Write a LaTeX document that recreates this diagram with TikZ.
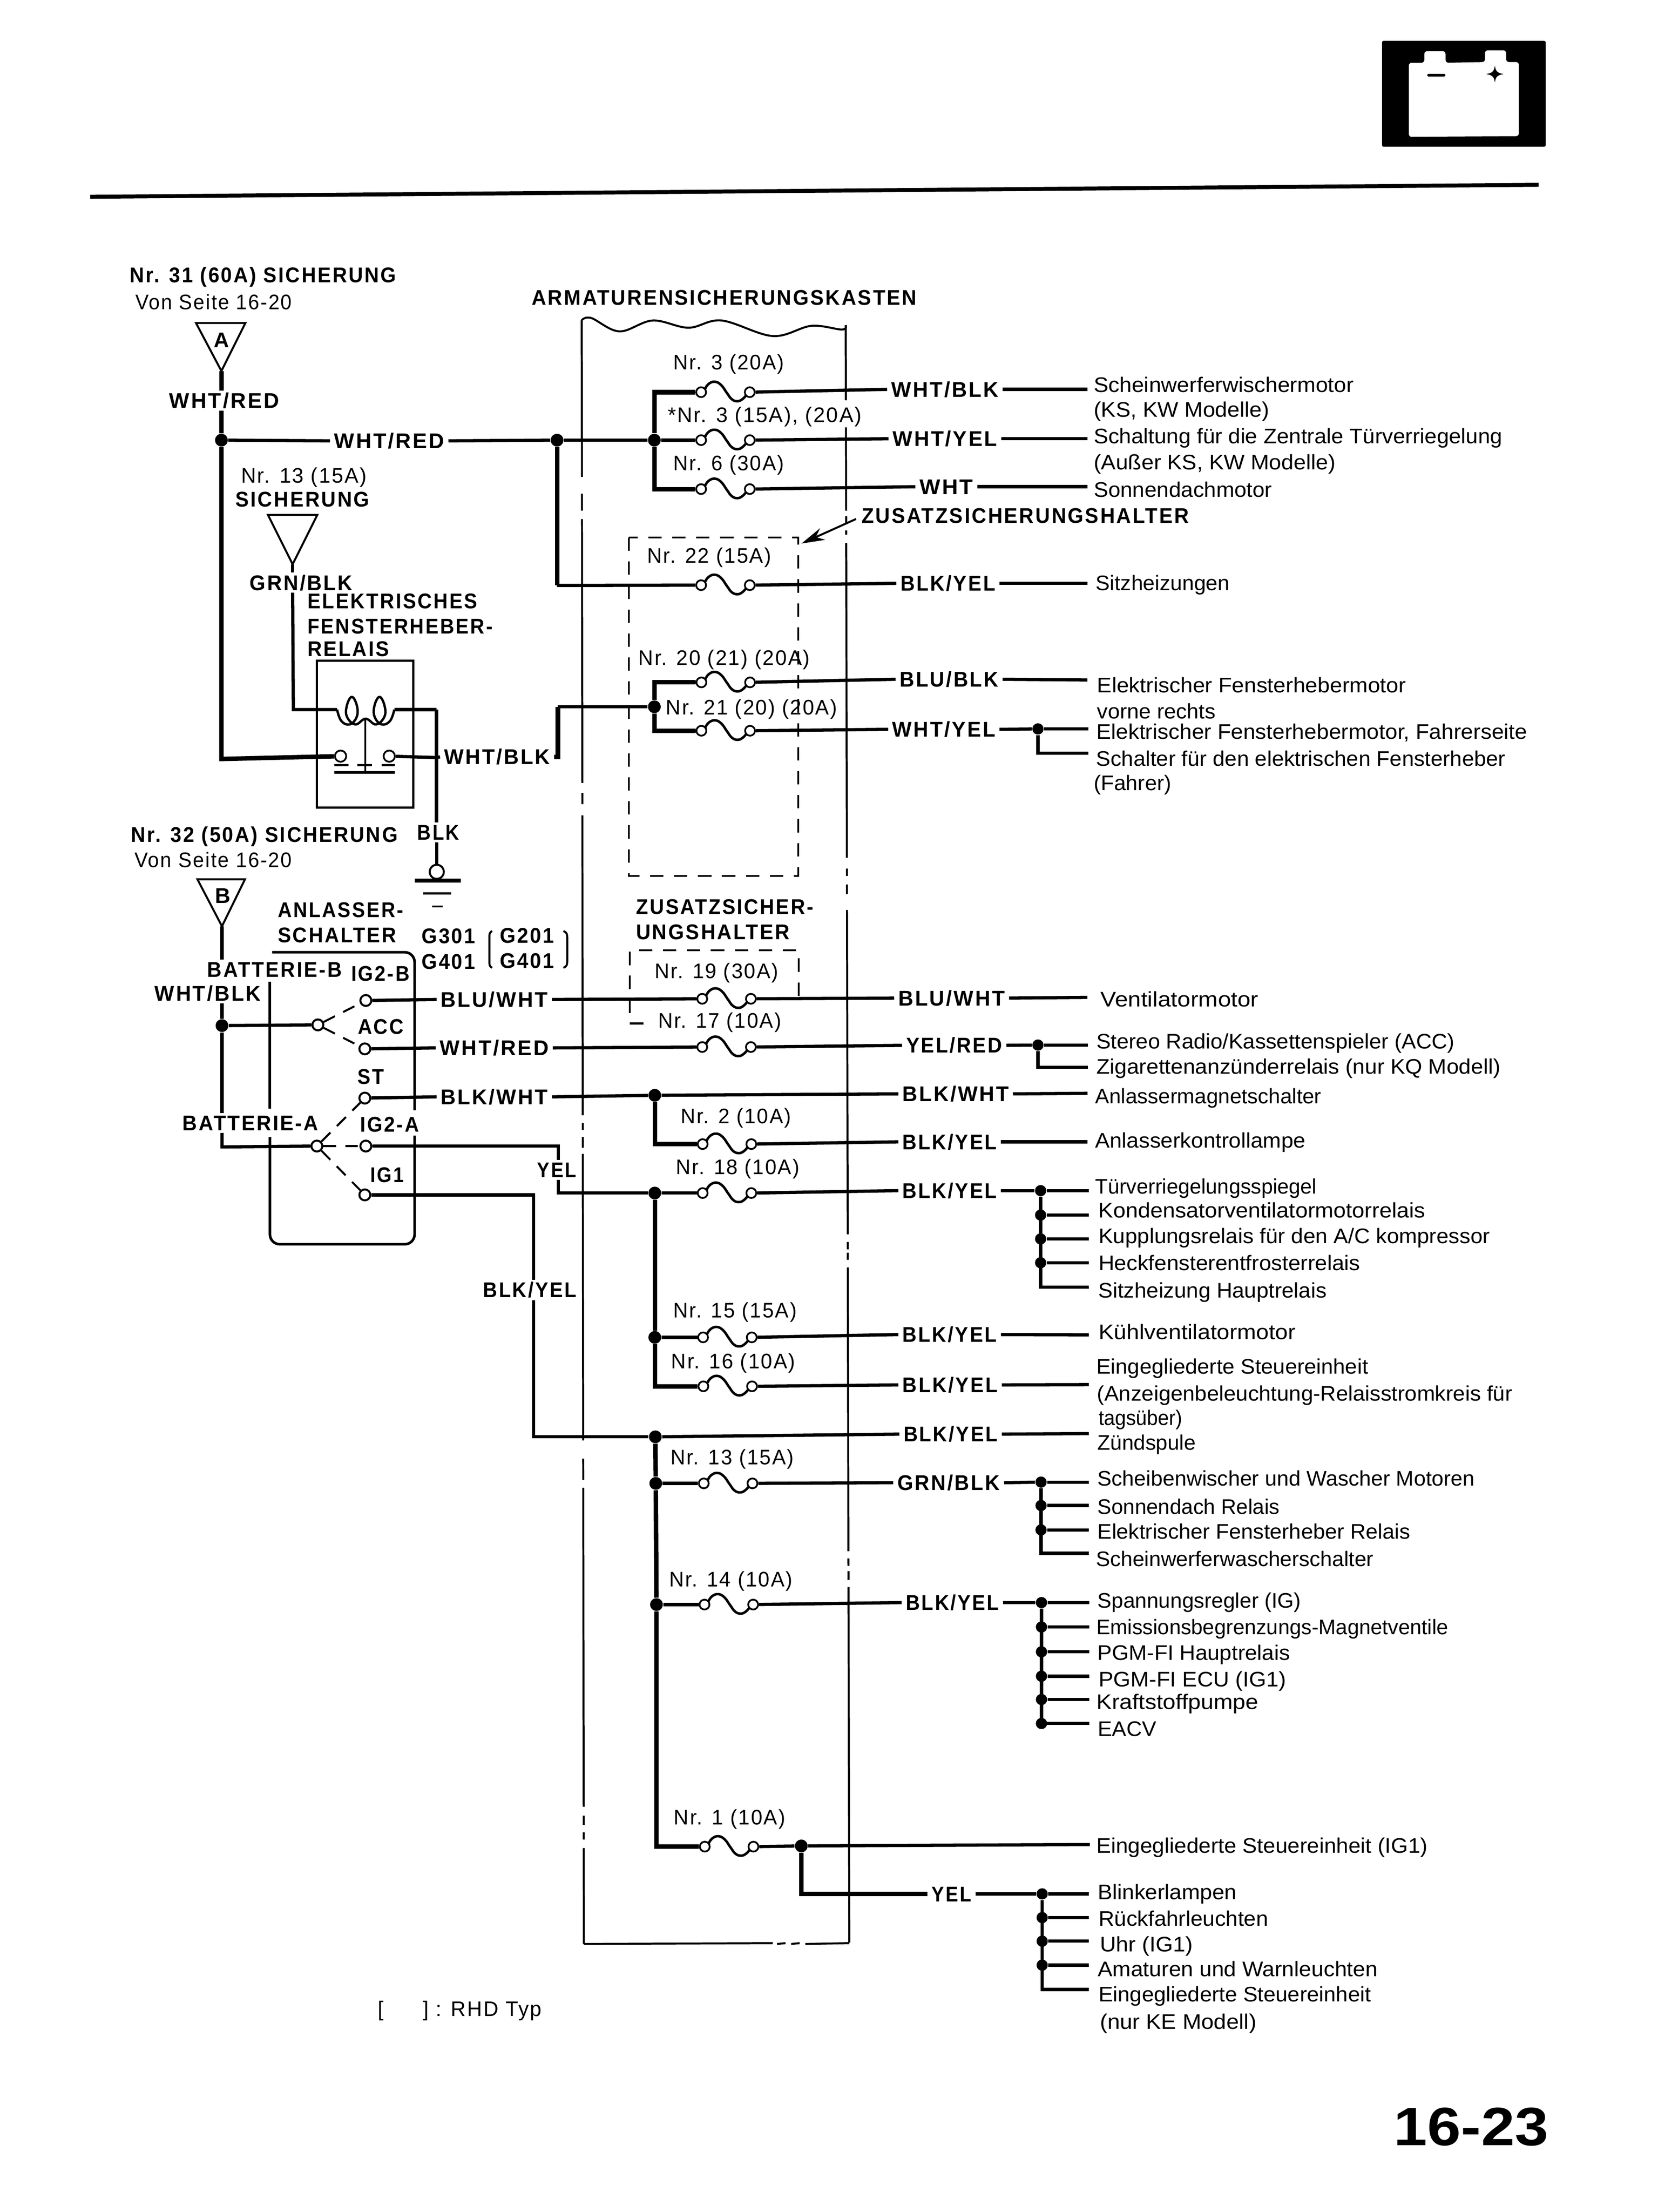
\documentclass[tikz,border=0pt]{standalone}
\usepackage{fontspec}
\usepackage{graphicx}
\usetikzlibrary{arrows.meta,calc}
\setmainfont{Liberation Sans}
\newfontfamily\fbold[LetterSpace=8]{Liberation Sans}
\newfontfamily\fspaced[LetterSpace=6]{Liberation Sans}
\newfontfamily\fplain{Liberation Sans}
\newsavebox\fitb
\newcommand\fitw[2]{\sbox\fitb{#2}\pgfmathsetmacro\fitf{#1/\the\wd\fitb}\scalebox{\fitf}[1]{\usebox\fitb}}
% style, name, x left, x right, y, text
\newcommand\tlab[6]{\pgfmathsetmacro\wpt{(#4-#3)*0.02*28.45276}\node[#1] (#2) at ({(#3+#4)/2},#5) {\fitw{\wpt}{#6}};}
\tikzset{
  lbl/.style={font=\fbold\bfseries\fontsize{8.6}{10}\selectfont,inner sep=0pt,outer xsep=1.7pt,outer ysep=1pt,text height=6.1pt,text depth=0pt},
  nrt/.style={font=\fspaced\fontsize{8.5}{10}\selectfont,inner sep=0pt,outer sep=0pt,text height=6.1pt,text depth=0pt},
  txt/.style={font=\fplain\fontsize{8.5}{10}\selectfont,inner sep=0pt,outer sep=0pt,text height=6.1pt,text depth=0pt},
  wire/.style={line width=1.3pt,line join=miter},
  trunk/.style={line width=1.8pt,line join=miter},
  thinl/.style={line width=0.8pt},
  jdot/.style={circle,fill=black,inner sep=0pt,minimum size=0.18cm},
  fcirc/.style={circle,draw=black,fill=white,line width=0.7pt,inner sep=0pt,minimum size=0.14cm},
  scirc/.style={circle,draw=black,fill=white,line width=0.8pt,inner sep=0pt,minimum size=0.155cm},
  dbox/.style={line width=0.8pt,dash pattern=on 1.9mm off 1.5mm},
  fuse/.pic={
    \node[fcirc] (-l) at (-17.25,0) {};
    \node[fcirc] (-r) at (17.25,0) {};
    \draw[line width=1pt] plot[smooth,tension=0.75] coordinates {(-14.5,-2.2) (-12,-5.8) (-7.5,-7.4) (-3,-5) (1,0.5) (4.5,5) (8.5,6.4) (12,5) (14.8,2)};
  }
}
\begin{document}
\begin{tikzpicture}[x=0.02cm,y=-0.02cm]
\useasboundingbox (0,0) rectangle (1175.5,1568);
\fill[white] (0,0) rectangle (1175.5,1568);
% ---------- header
\fill[black,rounded corners=0.2mm] (980,29) rectangle (1096,104);
\fill[white,rounded corners=0.4mm] (999,97) -- (999,44.5) -- (1010,44.5) -- (1010,36.3) -- (1025,36.3) -- (1025,44.5) -- (1053,44) -- (1053,35.7) -- (1068,35.7) -- (1068,44) -- (1077,44) -- (1077,96.5) -- cycle;
\draw[line width=1.1pt,line cap=round] (1013,53.3) -- (1024,53.3);
\fill[black] (1060,46.5) .. controls (1060.6,50.5) and (1061.5,51.6) .. (1066,52.5) .. controls (1061.5,53.4) and (1060.6,54.5) .. (1060,58.5) .. controls (1059.4,54.5) and (1058.5,53.4) .. (1054,52.5) .. controls (1058.5,51.6) and (1059.4,50.5) .. (1060,46.5) -- cycle;
\draw[line width=1.6pt] (64,139.5) -- (1091,131);
\node[inner sep=0pt,font=\bfseries\fontsize{21.8}{24}\selectfont,text height=15.6pt,text depth=0pt] (pg) at (1043.2,1507) {\pgfmathsetmacro\wpt{109.5*0.02*28.45276}\fitw{\wpt}{16-23}};
% ---------- fuse box outline
\draw[thinl] plot[smooth,tension=0.6] coordinates {(412.5,227) (419.2,225.4) (439.2,234.9) (462.8,227.2) (488.2,232.3) (511.7,227.2) (548,238.2) (575.2,231) (597,233.6) (599.7,230.5)};
\foreach \a/\b in {227/338,350/362,368/555,562/570,578/790.5,796/801,806/813.6,818/1021,1034/1049,1054.6/1280.8,1287/1293.6,1298.8/1304,1310/1378}
  \draw[thinl] ({412.5+(\a-227)*0.0013},\a) -- ({412.5+(\b-227)*0.0013},\b);
\foreach \a/\b in {230.5/283.7,303/362,366/371,376/379,385/608,615.7/620.9,627/633.7,645/875,880.4/885.6,888/893,898.4/1099.6,1104.7/1110,1113.7/1120,1125/1377}
  \draw[thinl] ({599.7+(\a-230)*0.0022},\a) -- ({599.7+(\b-230)*0.0022},\b);
\foreach \a/\b in {414/548,551/557,561/567,571/602.2}
  \draw[thinl] (\a,1378) -- (\b,1377.4);
% dashed holders
\draw[dbox] (446,381) rectangle (566,621);
\draw[dbox] (456.2,725.5) -- (446.6,725.5) -- (446.6,673.6) -- (566.3,673.6) -- (566.3,707.5);
% ---------- titles
\tlab{lbl}{tT31}{92}{281}{195}{Nr. 31 (60A) SICHERUNG}
\tlab{nrt}{tV1}{96}{207}{214}{Von Seite 16-20}
\tlab{lbl}{tBox}{377}{650}{211}{ARMATURENSICHERUNGSKASTEN}
\tlab{nrt}{tN13a}{171}{260}{337}{Nr. 13 (15A)}
\tlab{lbl}{tSich}{167}{262}{354}{SICHERUNG}
\tlab{lbl}{tEl1}{218}{338.5}{426}{ELEKTRISCHES}
\tlab{lbl}{tEl2}{218}{349.4}{444}{FENSTERHEBER-}
\tlab{lbl}{tEl3}{218}{276}{460}{RELAIS}
\tlab{lbl}{tT32}{93}{282}{591.6}{Nr. 32 (50A) SICHERUNG}
\tlab{nrt}{tV2}{95.5}{207}{609.5}{Von Seite 16-20}
\tlab{lbl}{tAn1}{197}{286}{645}{ANLASSER-}
\tlab{lbl}{tAn2}{197}{281}{662.8}{SCHALTER}
\tlab{lbl}{tG1}{299}{337}{663.4}{G301}
\tlab{lbl}{tG2}{299}{337}{681.6}{G401}
\tlab{lbl}{tG3}{354.4}{393}{663}{G201}
\tlab{lbl}{tG4}{354.4}{393}{681}{G401}
\tlab{lbl}{tBB}{147}{242.4}{687.3}{BATTERIE-B}
\tlab{lbl}{tI2B}{249}{290.4}{690}{IG2-B}
\tlab{lbl}{tACC}{253.7}{286.3}{727.6}{ACC}
\tlab{lbl}{tST}{253.5}{272.3}{763}{ST}
\tlab{lbl}{tBA}{129.5}{225.8}{796}{BATTERIE-A}
\tlab{lbl}{tI2A}{255.3}{297.2}{797}{IG2-A}
\tlab{lbl}{tIG1}{262.5}{286.3}{832.8}{IG1}
\tlab{lbl}{tZ1}{451}{576.7}{642.7}{ZUSATZSICHER-}
\tlab{lbl}{tZ2}{451}{560}{660.7}{UNGSHALTER}
\tlab{lbl}{tZ}{611}{843}{365.4}{ZUSATZSICHERUNGSHALTER}
\tlab{nrt}{tRHD}{268}{384}{1424}{[\hspace{1.9em}] : RHD Typ}
% fuse captions
\tlab{nrt}{n3}{477.6}{556}{256.8}{Nr. 3 (20A)}
\tlab{nrt}{ns}{473.6}{611}{294}{*Nr. 3 (15A), (20A)}
\tlab{nrt}{n6}{477.6}{556}{328}{Nr. 6 (30A)}
\tlab{nrt}{n22}{458.8}{547}{393.7}{Nr. 22 (15A)}
\tlab{nrt}{n20}{452.8}{574.3}{466}{Nr. 20 (21) (20A)}
\tlab{nrt}{n21}{472.2}{593.7}{501.4}{Nr. 21 (20) (20A)}
\tlab{nrt}{n19}{464.3}{552}{688.2}{Nr. 19 (30A)}
\tlab{nrt}{n17}{466.7}{554}{723.2}{Nr. 17 (10A)}
\tlab{nrt}{n2}{482.8}{561}{791}{Nr. 2 (10A)}
\tlab{nrt}{n18}{479.4}{566.9}{827.2}{Nr. 18 (10A)}
\tlab{nrt}{n15}{477.5}{565}{928.8}{Nr. 15 (15A)}
\tlab{nrt}{n16}{476}{564}{964.7}{Nr. 16 (10A)}
\tlab{nrt}{n13}{475.5}{563}{1032.8}{Nr. 13 (15A)}
\tlab{nrt}{n14}{474.5}{562}{1119.4}{Nr. 14 (10A)}
\tlab{nrt}{n1}{477.9}{557}{1288}{Nr. 1 (10A)}
% ---------- loads
\tlab{txt}{x1}{775.6}{960}{272.5}{Scheinwerferwischermotor}
\tlab{txt}{x2}{775.6}{900}{290.3}{(KS, KW Modelle)}
\tlab{txt}{x3}{775.6}{1065.4}{309}{Schaltung für die Zentrale Türverriegelung}
\tlab{txt}{x4}{775.6}{947}{327.6}{(Außer KS, KW Modelle)}
\tlab{txt}{x5}{775.6}{902}{347}{Sonnendachmotor}
\tlab{txt}{x6}{777}{872}{413}{Sitzheizungen}
\tlab{txt}{x7}{778}{997}{485.6}{Elektrischer Fensterhebermotor}
\tlab{txt}{x8}{778}{862}{504}{vorne rechts}
\tlab{txt}{x9}{777.5}{1083}{518.5}{Elektrischer Fensterhebermotor, Fahrerseite}
\tlab{txt}{x10}{777.3}{1067.6}{537.5}{Schalter für den elektrischen Fensterheber}
\tlab{txt}{x11}{775.6}{830.5}{555}{(Fahrer)}
\tlab{txt}{x12}{780.4}{892.4}{708.3}{Ventilatormotor}
\tlab{txt}{x13}{777.5}{1031.5}{738}{Stereo Radio/Kassettenspieler (ACC)}
\tlab{txt}{x14}{777.5}{1064}{755.9}{Zigarettenanzünderrelais (nur KQ Modell)}
\tlab{txt}{x15}{776.6}{937}{777}{Anlassermagnetschalter}
\tlab{txt}{x16}{776.6}{925.8}{808.4}{Anlasserkontrollampe}
\tlab{txt}{x17}{776.6}{933.7}{841}{Türverriegelungsspiegel}
\tlab{txt}{x18}{778.8}{1010.8}{857.9}{Kondensatorventilatormotorrelais}
\tlab{txt}{x19}{779}{1056.5}{875.9}{Kupplungsrelais für den A/C kompressor}
\tlab{txt}{x20}{779}{964.5}{895.1}{Heckfensterentfrosterrelais}
\tlab{txt}{x21}{778.8}{940.7}{914.6}{Sitzheizung Hauptrelais}
\tlab{txt}{x22}{779}{918.8}{944.2}{Kühlventilatormotor}
\tlab{txt}{x23}{777.5}{970.2}{968.6}{Eingegliederte Steuereinheit}
\tlab{txt}{x24}{778}{1072.4}{987.6}{(Anzeigenbeleuchtung-Relaisstromkreis für}
\tlab{txt}{x25}{779}{838.5}{1005}{tagsüber)}
\tlab{txt}{x26}{778.2}{848}{1022.5}{Zündspule}
\tlab{txt}{x27}{778.2}{1045.7}{1048}{Scheibenwischer und Wascher Motoren}
\tlab{txt}{x28}{778.2}{907.4}{1068}{Sonnendach Relais}
\tlab{txt}{x29}{778.2}{1000}{1085.6}{Elektrischer Fensterheber Relais}
\tlab{txt}{x30}{777.2}{974}{1105}{Scheinwerferwascherschalter}
\tlab{txt}{x31}{778.2}{922.6}{1134.3}{Spannungsregler (IG)}
\tlab{txt}{x32}{777.5}{1027}{1153.3}{Emissionsbegrenzungs-Magnetventile}
\tlab{txt}{x33}{778.2}{914.7}{1171.3}{PGM-FI Hauptrelais}
\tlab{txt}{x34}{779}{912}{1190.3}{PGM-FI ECU (IG1)}
\tlab{txt}{x35}{777.5}{892.4}{1206.2}{Kraftstoffpumpe}
\tlab{txt}{x36}{778.5}{820}{1225.2}{EACV}
\tlab{txt}{x37}{777.5}{1012.4}{1308}{Eingegliederte Steuereinheit (IG1)}
\tlab{txt}{x38}{778.5}{877}{1341.2}{Blinkerlampen}
\tlab{txt}{x39}{779}{899.3}{1359.8}{Rückfahrleuchten}
\tlab{txt}{x40}{780}{846}{1378}{Uhr (IG1)}
\tlab{txt}{x41}{778.5}{976.9}{1395.6}{Amaturen und Warnleuchten}
\tlab{txt}{x42}{779}{972.2}{1413.5}{Eingegliederte Steuereinheit}
\tlab{txt}{x43}{780}{891}{1433}{(nur KE Modell)}
% ---------- triangles
\coordinate (tipA) at (157,263);
\coordinate (tipN) at (207.5,400);
\coordinate (tipB) at (157.4,656.6);
\draw[line width=0.8pt] (139,229) -- (174,229) -- (tipA) -- cycle;
\draw[line width=0.8pt] (190,365) -- (225,365) -- (tipN) -- cycle;
\draw[line width=0.8pt] (140,623.3) -- (173.7,623.3) -- (tipB) -- cycle;
\node[lbl] (triA) at (157,241) {A};
\node[lbl] (triB) at (158,634.7) {B};
% ---------- wire labels
\tlab{lbl}{lA1}{120}{198}{284}{WHT/RED}
\tlab{lbl}{lA2}{237}{315}{312.5}{WHT/RED}
\tlab{lbl}{lGB}{177}{250}{413}{GRN/BLK}
\tlab{lbl}{lWB}{315}{390}{536.5}{WHT/BLK}
\tlab{lbl}{lBK}{296}{325.6}{590}{BLK}
\tlab{lbl}{lWB2}{109.7}{185}{704}{WHT/BLK}
\tlab{lbl}{lBW}{312.6}{388.4}{708.5}{BLU/WHT}
\tlab{lbl}{lWR}{312}{389}{742.8}{WHT/RED}
\tlab{lbl}{lBKW}{312.6}{388.4}{777.5}{BLK/WHT}
\tlab{lbl}{lY}{381}{408.8}{829.4}{YEL}
\tlab{lbl}{lBY}{342.6}{408.8}{914.4}{BLK/YEL}
\tlab{lbl}{r1}{632}{708}{276}{WHT/BLK}
\tlab{lbl}{r2}{633}{707}{311}{WHT/YEL}
\tlab{lbl}{r3}{652}{690}{345}{WHT}
\tlab{lbl}{r4}{638.5}{705.8}{413.5}{BLK/YEL}
\tlab{lbl}{r5}{638}{708}{481.5}{BLU/BLK}
\tlab{lbl}{r6}{632.8}{705.8}{517}{WHT/YEL}
\tlab{lbl}{r7}{637}{712.5}{707.5}{BLU/WHT}
\tlab{lbl}{r8}{642.6}{710.6}{741}{YEL/RED}
\tlab{lbl}{r9}{640}{715.3}{775.4}{BLK/WHT}
\tlab{lbl}{r10}{640}{706.8}{809.4}{BLK/YEL}
\tlab{lbl}{r11}{640}{706.8}{844}{BLK/YEL}
\tlab{lbl}{r12}{640}{706.8}{946}{BLK/YEL}
\tlab{lbl}{r13}{640}{707.4}{981.7}{BLK/YEL}
\tlab{lbl}{r14}{640.7}{707.4}{1016.6}{BLK/YEL}
\tlab{lbl}{r15}{636.3}{709}{1051}{GRN/BLK}
\tlab{lbl}{r16}{642.3}{708.3}{1136}{BLK/YEL}
\tlab{lbl}{r17}{660.6}{688.7}{1342.5}{YEL}
% ---------- wires are laid first so that fuses and contacts sit on top
\coordinate (f3a) at (497.15,278);
% ---------- fuses
\pic (f3) at (514.4,278) {fuse};
\pic (fs) at (514.4,312) {fuse};
\pic (f6) at (514.4,346.7) {fuse};
\pic (f22) at (514.4,414.8) {fuse};
\pic (f20) at (514.6,483.7) {fuse};
\pic (f21) at (514.6,518) {fuse};
\pic (f19) at (515.2,708) {fuse};
\pic (f17) at (515.2,742.2) {fuse};
\pic (f2) at (515.5,811) {fuse};
\pic (f18) at (515.5,845.7) {fuse};
\pic (f15) at (515.8,948) {fuse};
\pic (f16) at (516,982.7) {fuse};
\pic (f13) at (516.3,1051.5) {fuse};
\pic (f14) at (516.8,1137.4) {fuse};
\pic (f1) at (517,1309) {fuse};
% ---------- junctions
\node[jdot] (j0) at (157,312) {};
\node[jdot] (j1) at (395,312) {};
\node[jdot] (j2) at (464,312) {};
\node[jdot] (j21) at (464,501) {};
\node[jdot] (jk) at (464.3,776.4) {};
\node[jdot] (j18) at (464.3,845.7) {};
\node[jdot] (j15) at (464.3,948) {};
\node[jdot] (jb) at (464.7,1018.5) {};
\node[jdot] (j13) at (465,1051.5) {};
\node[jdot] (j14) at (465.5,1137.4) {};
\node[jdot] (jY) at (568.2,1308.5) {};
\node[jdot] (jS) at (157.4,727) {};
% ---------- left feed and relay
\coordinate (c22) at (395,415);
\coordinate (c21) at (395.6,501);
\coordinate (relC) at (309.5,503);
\coordinate (relD) at (309.5,537);
\coordinate (relL) at (157,538);
\coordinate (relN) at (208,503);
\draw[line width=0.95pt] (224.7,468.4) rectangle (293,572.5);
\node[fcirc,minimum size=0.16cm] (rc1) at (241.5,536) {};
\node[fcirc,minimum size=0.16cm] (rc2) at (276,536) {};
\coordinate (coilL) at (239,503);
\coordinate (coilR) at (279.6,503);
\draw[line width=0.95pt] plot[smooth,tension=0.7] coordinates {(239,503) (242,511) (248,513.5) (253,508) (253,500) (249.5,494) (246,500) (246,508) (252,513.5) (259.3,509.5) (266.6,513.5) (272.6,508) (272.6,500) (269.1,494) (265.6,500) (265.6,508) (270.6,513.5) (276.6,511) (279.6,503)};
\draw[thinl] (259,510) -- (259,547.6);
\draw[line width=1.1pt] (237,547.6) -- (280,547.6);
\draw[thinl] (253.5,542.4) -- (263.7,542.4);
\draw[line width=0.95pt] (237,542.4) -- (247,542.4);
\draw[line width=0.95pt] (270.5,542.4) -- (280,542.4);
\draw[trunk] (tipA) -- (tipA |- lA1.north);
\draw[trunk] (tipA |- lA1.south) -- (j0) -- (relL) -- (rc1);
\draw[wire] (j0) -- (lA2.west);
\draw[wire] (lA2.east) -- (j1) -- (j2);
\draw[trunk] (j1) -- (c22);
\draw[wire] (c22) -- (f22-l);
\draw[trunk] (j2) |- (f3-l);
\draw[wire] (j2) -- (fs-l);
\draw[trunk] (j2) |- (f6-l);
\draw[wire] (tipN) -- (tipN |- lGB.north);
\draw[wire] (tipN |- lGB.south) -- (relN) -- (coilL);
\draw[wire] (coilR) -- (relC);
\draw[wire] (relC) -- (relC |- lBK.north);
\draw[wire] (rc2) -- (relD) -- (lWB.west);
\draw[trunk] (lWB.east) -| (c21);
\draw[wire] (c21) -- (j21);
\draw[trunk] (j21) |- (f20-l);
\draw[trunk] (j21) |- (f21-l);
% ---------- ground
\coordinate (gw) at (309.7,590);
\node[circle,draw=black,line width=0.8pt,inner sep=0pt,minimum size=0.2cm] (gnd) at (309.7,618) {};
\draw[wire] (gw |- lBK.south) -- (gnd);
\draw[line width=1.5pt] (294,624.2) -- (326.7,624.2);
\draw[thinl] (300,633.3) -- (320,633.3);
\draw[thinl] (306.3,642.6) -- (313.8,642.6);
% ---------- brackets
\draw[thinl] (349,660) .. controls (347,661) and (347,662) .. (347,665) -- (347,681) .. controls (347,684) and (347,685) .. (349,686);
\draw[thinl] (399.5,660) .. controls (402,661) and (402.2,662) .. (402.2,665) -- (402.2,681) .. controls (402.2,684) and (402,685) .. (399.5,686);
% ---------- ignition switch
\draw[line width=1.05pt,rounded corners=1.4mm] (191.4,806) -- (191.4,882) -- (294,882) -- (294,805);
\draw[line width=1.05pt,rounded corners=1.4mm] (294,787) -- (294,675) -- (193,675);
\draw[line width=1.05pt] (191.4,696) -- (191.4,786);
\node[scirc] (sw0) at (225.4,726.5) {};
\node[scirc] (sA1) at (259.4,709.2) {};
\node[scirc] (sA2) at (258.7,743.5) {};
\node[scirc] (sST) at (258.7,778.4) {};
\node[scirc] (sw1) at (224.7,812.4) {};
\node[scirc] (sI2) at (259.4,812.4) {};
\node[scirc] (sI1) at (258.7,847) {};
\tikzset{swd/.style={line width=0.8pt,dash pattern=on 1.8mm off 1.3mm}}
\draw[swd] (sw0) -- (sA1);
\draw[swd] (sw0) -- (sA2);
\draw[swd] (sw1) -- (sST);
\draw[swd] (sw1) -- (sI2);
\draw[swd] (sw1) -- (sI1);
\coordinate (bA) at (157.4,813);
\draw[wire] (tipB) -- (tipB |- tBB.north);
\draw[wire] (tipB |- lWB2.south) -- (jS);
\draw[wire] (jS) -- (tipB |- tBA.north);
\draw[wire] (tipB |- tBA.south) -- (bA) -- (sw1);
\draw[wire] (jS) -- (sw0);
\draw[wire] (sA1) -- (lBW.west);
\draw[wire] (sA2) -- (lWR.west);
\draw[wire] (sST) -- (lBKW.west);
\draw[wire] (lBW.east) -- (f19-l);
\draw[wire] (lWR.east) -- (f17-l);
\draw[wire] (lBKW.east) -- (jk);
\coordinate (cY) at (396,845.7);
\coordinate (cB) at (378.4,1018.5);
\draw[wire] (sI2) -| (lY.north -| cY);
\draw[wire] (lY.south -| cY) -- (cY) -- (j18);
\draw[wire] (sI1) -| (lBY.north -| cB);
\draw[wire] (lBY.south -| cB) -- (cB) -- (jb);
% ---------- trunks in the box
\draw[trunk] (jk) |- (f2-l);
\draw[trunk] (j18) -- (j15) |- (f16-l);
\draw[trunk] (jb) -- (j13) -- (j14) |- (f1-l);
\draw[wire] (j18) -- (f18-l);
\draw[wire] (j15) -- (f15-l);
\draw[wire] (j13) -- (f13-l);
\draw[wire] (j14) -- (f14-l);
\draw[wire] (f1-r) -- (jY);
\coordinate (cYe) at (568.2,1342.5);
\draw[trunk] (jY) -- (cYe) -- (r17.west);
% ---------- right runs
\coordinate (e1) at (771,276);
\coordinate (e2) at (771,311);
\coordinate (e3) at (771,345);
\coordinate (e4) at (771,413.5);
\coordinate (e5) at (771,482);
\coordinate (e7) at (771,707);
\coordinate (e9) at (771.2,775);
\coordinate (e10) at (771,809.4);
\coordinate (e12) at (772,946.2);
\coordinate (e13) at (772,981.5);
\coordinate (e14) at (772,1016.2);
\coordinate (e37) at (772.8,1307.5);
\draw[wire] (f3-r) -- (r1.west);
\draw[wire] (r1.east) -- (e1);
\draw[wire] (fs-r) -- (r2.west);
\draw[wire] (r2.east) -- (e2);
\draw[wire] (f6-r) -- (r3.west);
\draw[wire] (r3.east) -- (e3);
\draw[wire] (f22-r) -- (r4.west);
\draw[wire] (r4.east) -- (e4);
\draw[wire] (f20-r) -- (r5.west);
\draw[wire] (r5.east) -- (e5);
\draw[wire] (f21-r) -- (r6.west);
\draw[wire] (f19-r) -- (r7.west);
\draw[wire] (r7.east) -- (e7);
\draw[wire] (f17-r) -- (r8.west);
\draw[wire] (jk) -- (r9.west);
\draw[wire] (r9.east) -- (e9);
\draw[wire] (f2-r) -- (r10.west);
\draw[wire] (r10.east) -- (e10);
\draw[wire] (f18-r) -- (r11.west);
\draw[wire] (f15-r) -- (r12.west);
\draw[wire] (r12.east) -- (e12);
\draw[wire] (f16-r) -- (r13.west);
\draw[wire] (r13.east) -- (e13);
\draw[wire] (jb) -- (r14.west);
\draw[wire] (r14.east) -- (e14);
\draw[wire] (f13-r) -- (r15.west);
\draw[wire] (f14-r) -- (r16.west);
\draw[wire] (jY) -- (e37);
% ---------- load branches
\foreach \nm/\x/\lab/\ys/\last/\xe in {
  a/736/r6/{516.7}/534/771.8,
  b/736/r8/{740.8}/756.5/771.5,
  c/737.9/r11/{844,861.3,878.2,895.1}/912.5/772,
  d/738.2/r15/{1050.6,1067.2,1084.5}/1101/772,
  e/738.5/r16/{1136,1153.3,1170.9,1188.2,1204.7,1221.7}/1221.7/772.5,
  f/739/r17/{1342.5,1359.3,1376,1393}/1410.2/772.2}{
  \coordinate (\nm last) at (\xe,\last);
  \coordinate (\nm foot) at (\x,\last);
  \foreach \y [count=\i] in \ys {
    \node[jdot,minimum size=0.16cm] (\nm\i) at (\x,\y) {};
    \coordinate (\nm e\i) at (\xe,\y);
    \draw[wire] (\nm\i) -- (\nm e\i);
    \ifnum\i=1 \draw[wire] (\lab.east) -- (\nm\i); \draw[wire] (\nm\i) -- (\nm foot) -- (\nm last); \fi
  }
}
% ---------- arrow
\coordinate (arrT) at (568.3,385.3);
\draw[thinl,-{Stealth[length=3.3mm,width=1.8mm]}] (tZ.west) ++(-1,2.5) -- (arrT);
\end{tikzpicture}
\end{document}
